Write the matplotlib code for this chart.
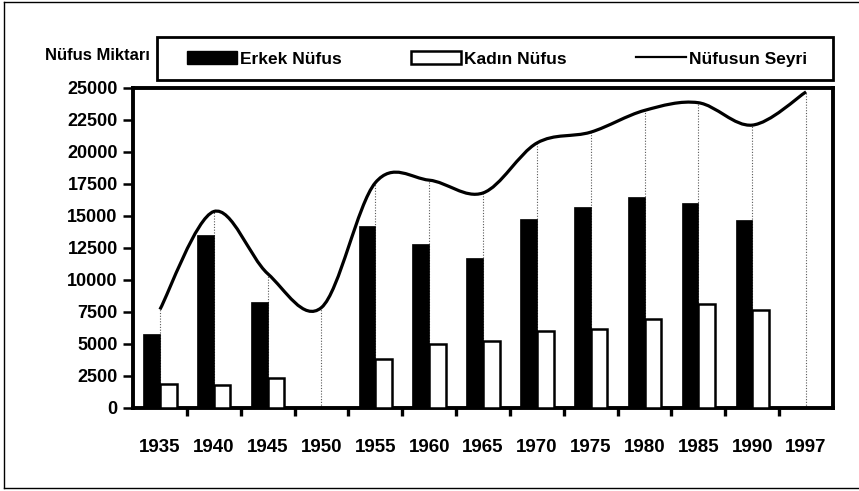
import matplotlib.pyplot as plt
from matplotlib.path import Path
from matplotlib.patches import PathPatch, Patch, Rectangle
from matplotlib.lines import Line2D

# Veriler
yillar = ["1935", "1940", "1945", "1950", "1955", "1960", "1965",
          "1970", "1975", "1980", "1985", "1990", "1997"]
erkek = [5800, 13550, 8300, 0, 14200, 12850, 11700,
         14800, 15700, 16450, 16000, 14650, 0]
kadin = [1850, 1800, 2350, 0, 3800, 5000, 5200,
         6000, 6150, 6950, 8150, 7650, 0]
seyir = [7700, 15350, 10500, 7850, 17600, 17800, 16800,
         20700, 21550, 23250, 23850, 22100, 24700]

ana_font = "Liberation Sans"

fig = plt.figure(figsize=(8.59, 4.91), dpi=100)
ax = fig.add_axes([133 / 859, 83 / 491, 700 / 859, 320 / 491])

x = list(range(len(yillar)))
gen = 0.31

ax.bar([i - gen for i in x], erkek, width=gen, align="edge", color="black",
       edgecolor="black", linewidth=0.5, zorder=3)
ax.bar(x, kadin, width=gen, align="edge", color="white",
       edgecolor="black", linewidth=1.8, zorder=3)

# dusey kesikli cizgiler (drop lines)
ax.vlines(x, 0, seyir, colors="0.35", linestyles=(0, (1, 1.5)),
          linewidth=0.8, zorder=2)

# Excel tarzi yumusatilmis egri (Bezier)
n = len(seyir)
pts = list(zip(x, seyir))
verts = [pts[0]]
codes = [Path.MOVETO]
for i in range(n - 1):
    p0 = pts[i - 1] if i > 0 else pts[i]
    p1 = pts[i]
    p2 = pts[i + 1]
    p3 = pts[i + 2] if i + 2 < n else pts[i + 1]
    c1 = (p1[0] + (p2[0] - p0[0]) / 6, p1[1] + (p2[1] - p0[1]) / 6)
    c2 = (p2[0] - (p3[0] - p1[0]) / 6, p2[1] - (p3[1] - p1[1]) / 6)
    verts += [c1, c2, p2]
    codes += [Path.CURVE4] * 3
ax.add_patch(PathPatch(Path(verts, codes), facecolor="none",
                       edgecolor="black", linewidth=2.3, zorder=4))

ax.set_xlim(-0.5, len(yillar) - 0.5)
ax.set_ylim(0, 25000)
ax.set_yticks(range(0, 25001, 2500))
ax.set_yticklabels([str(v) for v in range(0, 25001, 2500)],
                   fontfamily=ana_font, fontweight="bold", fontsize=13)
ax.set_xticks(x)
ax.set_xticklabels(yillar, fontfamily=ana_font, fontweight="bold", fontsize=13.5)
ax.set_xticks([i + 0.5 for i in x[:-1]], minor=True)
ax.tick_params(axis="x", which="major", length=0, pad=22)
ax.tick_params(axis="x", which="minor", length=6, width=2.4, direction="out")
ax.tick_params(axis="y", length=7, width=1.8, pad=4)

for s in ax.spines.values():
    s.set_linewidth(2.8)

# lejant
tutamaklar = [Patch(facecolor="black", edgecolor="black"),
              Patch(facecolor="white", edgecolor="black", linewidth=1.8),
              Line2D([0], [0], color="black", linewidth=1.6)]
leg = ax.legend(tutamaklar, ["Erkek Nüfus", "Kadın Nüfus", "Nüfusun Seyri"],
                ncol=3, mode="expand", loc="center left",
                bbox_to_anchor=(54 / 700, 1.0 + 29 / 320, 620 / 700, 0),
                borderaxespad=0, frameon=False, borderpad=0,
                handlelength=2.9, handleheight=0.8, handletextpad=0.15,
                prop={"family": ana_font, "weight": "bold", "size": 12.5})
fig.patches.append(Rectangle((157 / 859, 1 - 80 / 491), 676 / 859, 43 / 491,
                             transform=fig.transFigure, fill=False,
                             edgecolor="black", linewidth=2))

fig.text(150 / 859, 1 - 56 / 491, "Nüfus Miktarı", ha="right", va="center",
         fontfamily=ana_font, fontweight="bold", fontsize=12)

# dis cerceve (sag kenar yok)
for xs, ys in [([4, 859], [2, 2]), ([4, 859], [488, 488]), ([4, 4], [2, 488])]:
    fig.lines.append(Line2D([v / 859 for v in xs], [1 - v / 491 for v in ys],
                            transform=fig.transFigure, color="black",
                            linewidth=1))

fig.savefig("out.png", dpi=100)
